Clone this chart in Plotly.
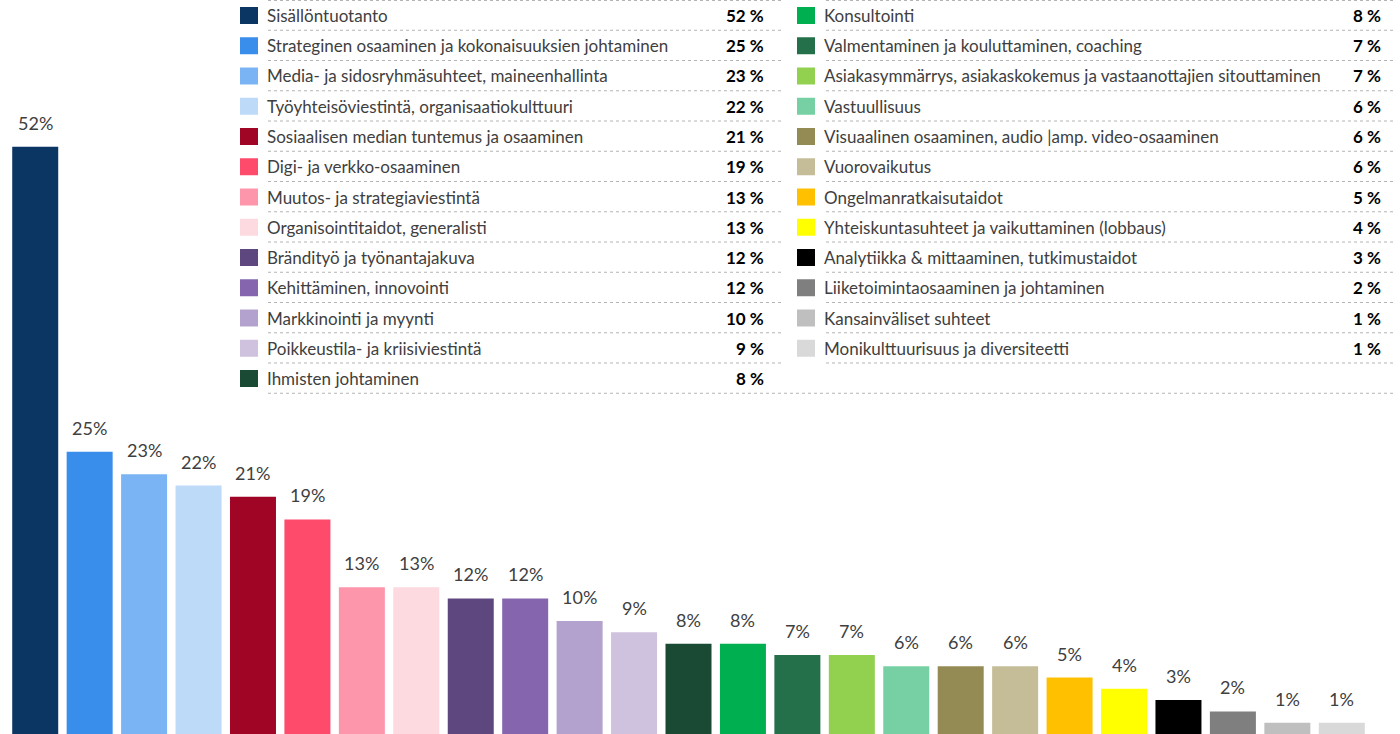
import plotly.graph_objects as go

categories = [
    "Sisällöntuotanto",
    "Strateginen osaaminen ja kokonaisuuksien johtaminen",
    "Media- ja sidosryhmäsuhteet, maineenhallinta",
    "Työyhteisöviestintä, organisaatiokulttuuri",
    "Sosiaalisen median tuntemus ja osaaminen",
    "Digi- ja verkko-osaaminen",
    "Muutos- ja strategiaviestintä",
    "Organisointitaidot, generalisti",
    "Brändityö ja työnantajakuva",
    "Kehittäminen, innovointi",
    "Markkinointi ja myynti",
    "Poikkeustila- ja kriisiviestintä",
    "Ihmisten johtaminen",
    "Konsultointi",
    "Valmentaminen ja kouluttaminen, coaching",
    "Asiakasymmärrys, asiakaskokemus ja vastaanottajien sitouttaminen",
    "Vastuullisuus",
    "Visuaalinen osaaminen, audio |amp. video-osaaminen",
    "Vuorovaikutus",
    "Ongelmanratkaisutaidot",
    "Yhteiskuntasuhteet ja vaikuttaminen (lobbaus)",
    "Analytiikka & mittaaminen, tutkimustaidot",
    "Liiketoimintaosaaminen ja johtaminen",
    "Kansainväliset suhteet",
    "Monikulttuurisuus ja diversiteetti",
]

values = [52, 25, 23, 22, 21, 19, 13, 13, 12, 12, 10, 9, 8, 8, 7, 7, 6, 6, 6, 5, 4, 3, 2, 1, 1]

colors = [
    "#0B3563", "#3A8EEB", "#7AB4F5", "#BDDAF8", "#A10526", "#FE4A6B",
    "#FD96AA", "#FDD9E0", "#5E467F", "#8566AE", "#B3A2CD", "#CFC2DF",
    "#1A4A33", "#00B050", "#24704A", "#92D050", "#76D0A3", "#948A54",
    "#C4BD97", "#FFC000", "#FFFF00", "#000000", "#7F7F7F", "#BFBFBF",
    "#D9D9D9",
]

W, H = 1400, 734
FONT = "Lato"

fig = go.Figure()
fig.add_trace(go.Bar(
    x=categories, y=values,
    marker=dict(color=colors, line=dict(width=0)),
    hoverinfo="skip",
))

annotations = []
# bar value labels
for c, v in zip(categories, values):
    annotations.append(dict(
        x=c, y=v, xref="x", yref="y", text=f"{v}%", showarrow=False,
        yanchor="middle", yshift=24,
        font=dict(family=FONT, size=18, color="#404040"),
    ))

def px(x):
    return x / W

def py(y):
    return 1 - y / H

shapes = []
ROW = 30.25
n_left = 13
for i, (c, v, col) in enumerate(zip(categories, values, colors)):
    colidx = 0 if i < n_left else 1
    r = i if colidx == 0 else i - n_left
    yc = 15.5 + ROW * r
    sq_x0 = 240 if colidx == 0 else 797
    txt_x = 265 if colidx == 0 else 822
    pct_x = 766 if colidx == 0 else 1383
    shapes.append(dict(
        type="rect", xref="paper", yref="paper",
        x0=px(sq_x0), x1=px(sq_x0 + 18), y0=py(yc - 8.5), y1=py(yc + 8.5),
        fillcolor=col, line=dict(width=0),
    ))
    annotations.append(dict(
        x=px(txt_x), y=py(yc), xref="paper", yref="paper", text=c,
        showarrow=False, xanchor="left", yanchor="middle",
        font=dict(family=FONT, size=17, color="#404040"),
    ))
    annotations.append(dict(
        x=px(pct_x), y=py(yc), xref="paper", yref="paper",
        text=f"<b>{v} %</b>", showarrow=False, xanchor="right", yanchor="middle",
        font=dict(family=FONT, size=17, color="#000000"),
    ))

line_style = dict(color="#B4B4B4", width=1, dash="dot")
for k in range(14):
    yl = max(ROW * k, 0.5)
    if k < 13:
        shapes.append(dict(type="line", xref="paper", yref="paper",
                           x0=px(268), x1=px(783), y0=py(yl), y1=py(yl), line=line_style))
        shapes.append(dict(type="line", xref="paper", yref="paper",
                           x0=px(826), x1=px(1396), y0=py(yl), y1=py(yl), line=line_style))
    else:
        shapes.append(dict(type="line", xref="paper", yref="paper",
                           x0=px(268), x1=px(1396), y0=py(yl), y1=py(yl), line=line_style))

fig.update_layout(
    width=W, height=H,
    margin=dict(l=0, r=0, t=0, b=0),
    paper_bgcolor="white", plot_bgcolor="white",
    showlegend=False,
    bargap=0.155,
    xaxis=dict(domain=[8 / W, 1369 / W], visible=False, showgrid=False),
    yaxis=dict(range=[0, 65], visible=False, showgrid=False),
    annotations=annotations,
    shapes=shapes,
)

fig.write_html(
    "out.html",
    config={"displayModeBar": False},
    post_script="document.body.style.margin='0';document.body.style.overflow='hidden';",
)
